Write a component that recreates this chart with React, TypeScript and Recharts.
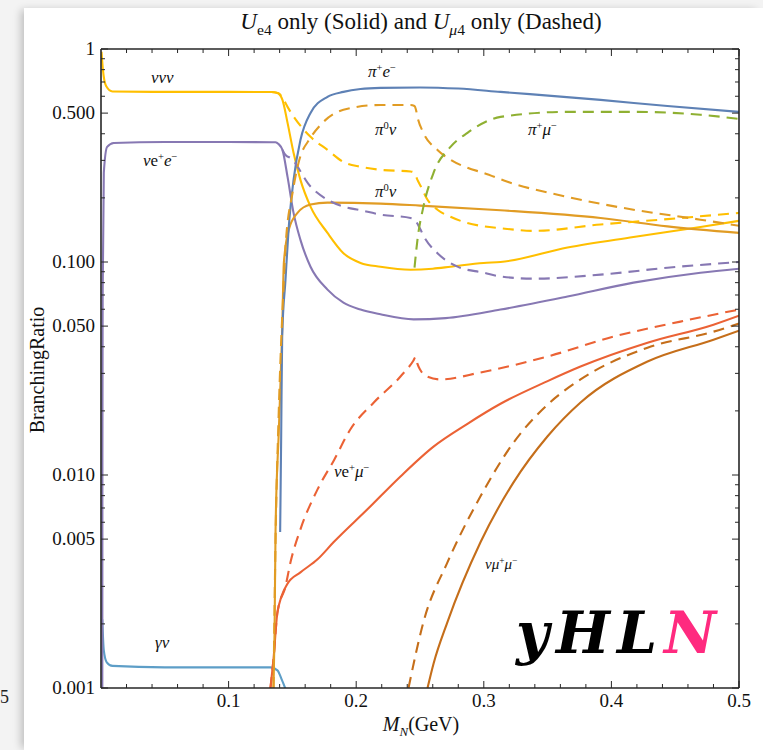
import React from 'react';
import { LineChart, Line, XAxis, YAxis } from 'recharts';

type Pt = [number, number];

// M_N (GeV), branching ratio — U_e4 only (solid)
const nuNuNuSolid: Pt[] = [
  [0.0004, 0.97], [0.0015, 0.8], [0.004, 0.67], [0.009, 0.632], [0.05, 0.629], [0.1, 0.629],
  [0.1336, 0.628], [0.1383, 0.622], [0.1422, 0.577], [0.1462, 0.45], [0.1509, 0.326],
  [0.1563, 0.243], [0.1642, 0.182], [0.1775, 0.137], [0.19, 0.11], [0.2034, 0.099],
  [0.219, 0.095], [0.2426, 0.092], [0.26, 0.093], [0.2739, 0.095], [0.2998, 0.099],
  [0.3131, 0.1], [0.3656, 0.117], [0.4173, 0.131], [0.4698, 0.146], [0.5, 0.156],
];
const nuEESolid: Pt[] = [
  [0.00103, 0.001], [0.0011, 0.012], [0.0013, 0.07], [0.0022, 0.262], [0.0048, 0.347],
  [0.01, 0.362], [0.05, 0.366], [0.1, 0.366], [0.1368, 0.365], [0.1391, 0.358],
  [0.1422, 0.336], [0.1462, 0.251], [0.1509, 0.17], [0.1563, 0.127], [0.1642, 0.095],
  [0.1775, 0.0742], [0.19, 0.0644], [0.2034, 0.0598], [0.219, 0.0568], [0.245, 0.0538],
  [0.27, 0.0545], [0.3131, 0.0598], [0.3656, 0.0688], [0.4173, 0.08], [0.4698, 0.0891], [0.5, 0.093],
];
const piEsolid: Pt[] = [
  [0.1404, 0.0054], [0.1412, 0.015], [0.142, 0.045], [0.1446, 0.0826], [0.147, 0.142],
  [0.1509, 0.243], [0.1563, 0.374], [0.1642, 0.501], [0.1775, 0.596], [0.19, 0.629],
  [0.2034, 0.649], [0.219, 0.657], [0.25, 0.66], [0.28, 0.652], [0.3131, 0.629],
  [0.3915, 0.577], [0.4439, 0.54], [0.5, 0.507],
];
const pi0NuSolid: Pt[] = [
  [0.1352, 0.001], [0.136, 0.0018], [0.1368, 0.0055], [0.1394, 0.0164], [0.142, 0.048],
  [0.1433, 0.099], [0.1472, 0.142], [0.154, 0.17], [0.1642, 0.186], [0.1775, 0.19],
  [0.219, 0.188], [0.25, 0.184], [0.3131, 0.175], [0.3915, 0.161], [0.4439, 0.147], [0.5, 0.137],
];
const gammaNuSolid: Pt[] = [
  [0.001, 0.0021], [0.0022, 0.0015], [0.0045, 0.00132], [0.009, 0.00127], [0.05, 0.00125],
  [0.1, 0.00125], [0.1328, 0.00125], [0.1383, 0.00121], [0.1415, 0.0011], [0.1446, 0.00099],
];
const nuEMuSolid: Pt[] = [
  [0.1328, 0.001], [0.1352, 0.00137], [0.1383, 0.00227], [0.1459, 0.00307], [0.1563, 0.00349],
  [0.1697, 0.00402], [0.1822, 0.00483], [0.2088, 0.0069], [0.2347, 0.00985], [0.2606, 0.0136],
  [0.2872, 0.0174], [0.3131, 0.0216], [0.35, 0.0276], [0.3758, 0.0323], [0.4283, 0.0418],
  [0.48, 0.0508], [0.5, 0.056],
];
const nuMuMuSolid: Pt[] = [
  [0.2559, 0.001], [0.2606, 0.0013], [0.2715, 0.00204], [0.2974, 0.00483], [0.3233, 0.00923],
  [0.35, 0.0152], [0.3758, 0.0219], [0.4283, 0.0341], [0.48, 0.0432], [0.5, 0.0476],
];

// U_mu4 only (dashed)
const nuNuNuDashed: Pt[] = [
  [0.1336, 0.628], [0.1391, 0.62], [0.143, 0.58], [0.1462, 0.535], [0.1642, 0.387],
  [0.1775, 0.336], [0.19, 0.295], [0.2034, 0.28], [0.219, 0.271], [0.2426, 0.266],
  [0.2457, 0.262], [0.248, 0.243], [0.2504, 0.228], [0.2559, 0.196], [0.2637, 0.176],
  [0.2739, 0.163], [0.2998, 0.147], [0.3131, 0.144], [0.339, 0.14], [0.3915, 0.15],
  [0.4439, 0.159], [0.5, 0.17],
];
const nuEEDashed: Pt[] = [
  [0.1422, 0.336], [0.1446, 0.318], [0.1485, 0.308], [0.1642, 0.226], [0.1775, 0.196],
  [0.19, 0.182], [0.2034, 0.175], [0.219, 0.167], [0.2426, 0.161], [0.2457, 0.158],
  [0.2504, 0.142], [0.2527, 0.133], [0.2637, 0.11], [0.2794, 0.0951], [0.2998, 0.0891],
  [0.3131, 0.0855], [0.339, 0.0835], [0.3915, 0.0872], [0.4439, 0.094], [0.5, 0.1],
];
const pi0NuDashed: Pt[] = [
  [0.1352, 0.001], [0.1368, 0.005], [0.1391, 0.018], [0.143, 0.075], [0.1446, 0.118],
  [0.1501, 0.211], [0.1548, 0.292], [0.1642, 0.383], [0.172, 0.44], [0.19, 0.518],
  [0.219, 0.546], [0.2426, 0.546], [0.2457, 0.54], [0.2468, 0.52], [0.248, 0.48],
  [0.2527, 0.404], [0.2637, 0.336], [0.2739, 0.302], [0.2872, 0.277], [0.2998, 0.262],
  [0.3186, 0.238], [0.3656, 0.202], [0.4173, 0.176], [0.4698, 0.158], [0.5, 0.148],
];
const piMuDashed: Pt[] = [
  [0.2457, 0.094], [0.248, 0.127], [0.2527, 0.182], [0.2606, 0.262], [0.2739, 0.347],
  [0.2872, 0.404], [0.3131, 0.48], [0.3656, 0.507], [0.4173, 0.507], [0.4698, 0.491], [0.5, 0.47],
];
const nuEMuDashed: Pt[] = [
  [0.1328, 0.001], [0.1352, 0.00137], [0.1383, 0.00227], [0.1446, 0.003], [0.1485, 0.00389],
  [0.1563, 0.00556], [0.1697, 0.00856], [0.1828, 0.0118], [0.1955, 0.0164], [0.2138, 0.0219],
  [0.2347, 0.029], [0.2449, 0.0345], [0.2465, 0.0358], [0.2478, 0.0335], [0.2504, 0.031],
  [0.2557, 0.029], [0.266, 0.0281], [0.2974, 0.0303], [0.35, 0.036], [0.4016, 0.0446],
  [0.4541, 0.0525], [0.5, 0.0598],
];
const nuMuMuDashed: Pt[] = [
  [0.241, 0.001], [0.2527, 0.00204], [0.2715, 0.00389], [0.2974, 0.00794], [0.3233, 0.0142],
  [0.35, 0.0214], [0.3758, 0.0281], [0.4283, 0.0396], [0.48, 0.0471], [0.5, 0.0514],
];

const xMajor = [0.1, 0.2, 0.3, 0.4, 0.5];
const xMinor = [0.02, 0.04, 0.06, 0.08, 0.12, 0.14, 0.16, 0.18, 0.22, 0.24, 0.26, 0.28,
  0.32, 0.34, 0.36, 0.38, 0.42, 0.44, 0.46, 0.48];
const yMajor = [0.001, 0.005, 0.01, 0.05, 0.1, 0.5, 1];
const yMinor = [0.002, 0.003, 0.004, 0.006, 0.007, 0.008, 0.009, 0.02, 0.03, 0.04, 0.06, 0.07,
  0.08, 0.09, 0.2, 0.3, 0.4, 0.6, 0.7, 0.8, 0.9];
const xTicks = [...xMinor, ...xMajor].sort((a, b) => a - b);
const yTicks = [...yMinor, ...yMajor].sort((a, b) => a - b);

const C = {
  yellow: '#FFBF00',
  purple: '#8778B3',
  blue: '#5E81B5',
  orange: '#E19C24',
  green: '#8FB032',
  red: '#EB6235',
  brown: '#C56E1A',
  lightBlue: '#5D9EC7',
};

const series = [
  { key: 'gvS', pts: gammaNuSolid, color: C.lightBlue, dashed: false },
  { key: 'eeS', pts: nuEESolid, color: C.purple, dashed: false },
  { key: 'nnnS', pts: nuNuNuSolid, color: C.yellow, dashed: false },
  { key: 'emuS', pts: nuEMuSolid, color: C.red, dashed: false },
  { key: 'mumuS', pts: nuMuMuSolid, color: C.brown, dashed: false },
  { key: 'pi0S', pts: pi0NuSolid, color: C.orange, dashed: false },
  { key: 'pieS', pts: piEsolid, color: C.blue, dashed: false },
  { key: 'eeD', pts: nuEEDashed, color: C.purple, dashed: true },
  { key: 'nnnD', pts: nuNuNuDashed, color: C.yellow, dashed: true },
  { key: 'emuD', pts: nuEMuDashed, color: C.red, dashed: true },
  { key: 'mumuD', pts: nuMuMuDashed, color: C.brown, dashed: true },
  { key: 'pi0D', pts: pi0NuDashed, color: C.orange, dashed: true },
  { key: 'pimuD', pts: piMuDashed, color: C.green, dashed: true },
];

const SERIF = '"Liberation Serif", "DejaVu Serif", serif';
const FRAME = '#262626';

const fmtY = (v: number) => (v === 1 ? '1' : v.toFixed(3));

const LeftTick = ({ x, y, payload }: any) => {
  const major = yMajor.includes(payload.value);
  return (
    <g>
      <line x1={x} x2={x + (major ? 7 : 4)} y1={y} y2={y} stroke={FRAME} strokeWidth={1} />
      {major && (
        <text x={x - 6} y={y + 6} textAnchor="end" fontSize={19} fontFamily={SERIF} fill="#111">
          {fmtY(payload.value)}
        </text>
      )}
    </g>
  );
};
const RightTick = ({ x, y, payload }: any) => {
  const major = yMajor.includes(payload.value);
  return <line x1={x} x2={x - (major ? 7 : 4)} y1={y} y2={y} stroke={FRAME} strokeWidth={1} />;
};
const BottomTick = ({ x, y, payload }: any) => {
  const major = xMajor.includes(payload.value);
  return (
    <g>
      <line x1={x} x2={x} y1={y} y2={y - (major ? 7 : 4)} stroke={FRAME} strokeWidth={1} />
      {major && (
        <text x={x} y={y + 19} textAnchor="middle" fontSize={19} fontFamily={SERIF} fill="#111">
          {String(payload.value)}
        </text>
      )}
    </g>
  );
};
const TopTick = ({ x, y, payload }: any) => {
  const major = xMajor.includes(payload.value);
  return <line x1={x} x2={x} y1={y} y2={y + (major ? 7 : 4)} stroke={FRAME} strokeWidth={1} />;
};

const sup = (s: string) => (
  <sup style={{ fontSize: '0.62em', lineHeight: 0, verticalAlign: '0.55em' }}>{s}</sup>
);

const lab: React.CSSProperties = {
  position: 'absolute',
  fontFamily: SERIF,
  fontSize: 17,
  lineHeight: 1,
  color: '#111',
  whiteSpace: 'nowrap',
};

export default function App() {
  return (
    <div style={{ position: 'absolute', left: 0, top: 0, width: 763, height: 750, overflow: 'hidden', background: '#f3f3f3' }}>
      <div style={{ position: 'absolute', left: 0, top: 687, fontFamily: SERIF, fontSize: 18, color: '#222' }}>5</div>
      <div
        style={{
          position: 'absolute', left: 24, top: 8, right: 0, bottom: 0, background: '#fff',
          boxShadow: '-5px 0 8px -2px rgba(0,0,0,0.22)',
        }}
      />
      <div style={{ position: 'absolute', left: 0, top: 0 }}>
        <LineChart width={763} height={750} margin={{ top: 48, right: 23, bottom: 32, left: 41 }}>
          <XAxis
            xAxisId={0} dataKey="m" type="number" domain={[0, 0.5]} allowDataOverflow
            ticks={xTicks} interval={0} tick={<BottomTick />} tickLine={false} tickSize={0} tickMargin={0}
            height={30} axisLine={{ stroke: FRAME, strokeWidth: 1.6 }}
          />
          <XAxis
            xAxisId="top" orientation="top" dataKey="m" type="number" domain={[0, 0.5]} allowDataOverflow
            ticks={xTicks} interval={0} tick={<TopTick />} tickLine={false} tickSize={0} tickMargin={0}
            height={1} axisLine={{ stroke: FRAME, strokeWidth: 1.6 }}
          />
          <YAxis
            yAxisId={0} type="number" scale="log" domain={[0.001, 1]} allowDataOverflow
            ticks={yTicks} interval={0} tick={<LeftTick />} tickLine={false} tickSize={0} tickMargin={0}
            width={60} axisLine={{ stroke: FRAME, strokeWidth: 1.6 }}
          />
          <YAxis
            yAxisId="right" orientation="right" type="number" scale="log" domain={[0.001, 1]} allowDataOverflow
            ticks={yTicks} interval={0} tick={<RightTick />} tickLine={false} tickSize={0} tickMargin={0}
            width={1} axisLine={{ stroke: FRAME, strokeWidth: 1.6 }}
          />
          {series.map((s) => (
            <Line
              key={s.key}
              data={s.pts.map(([m, br]) => ({ m, br }))}
              dataKey="br"
              type="monotone"
              stroke={s.color}
              strokeWidth={2.1}
              strokeDasharray={s.dashed ? '11 7' : undefined}
              dot={false}
              activeDot={false}
              isAnimationActive={false}
            />
          ))}
        </LineChart>
      </div>

      {/* title */}
      <div style={{ ...lab, fontSize: 23, left: 421, top: 10, transform: 'translateX(-50%)' }}>
        <i>U</i><sub style={{ fontSize: '0.68em' }}>e4</sub> only (Solid) and <i>U</i>
        <sub style={{ fontSize: '0.68em' }}><i>μ</i>4</sub> only (Dashed)
      </div>
      {/* axis titles */}
      <div style={{ ...lab, fontSize: 20, left: 37, top: 370, transform: 'translate(-50%, -50%) rotate(-90deg)' }}>
        BranchingRatio
      </div>
      <div style={{ ...lab, fontSize: 20, left: 421, top: 726, transform: 'translate(-50%, -50%)' }}>
        <i>M</i><sub style={{ fontSize: '0.65em' }}><i>N</i></sub>(GeV)
      </div>

      {/* curve labels */}
      <div style={{ ...lab, left: 151, top: 69 }}><i>ννν</i></div>
      <div style={{ ...lab, left: 143, top: 152 }}><i>ν</i>e{sup('+')}<i>e</i>{sup('−')}</div>
      <div style={{ ...lab, left: 368, top: 63 }}><i>π</i>{sup('+')}<i>e</i>{sup('−')}</div>
      <div style={{ ...lab, left: 375, top: 121 }}><i>π</i>{sup('0')}<i>ν</i></div>
      <div style={{ ...lab, left: 528, top: 121 }}><i>π</i>{sup('+')}<i>μ</i>{sup('−')}</div>
      <div style={{ ...lab, left: 375, top: 183 }}><i>π</i>{sup('0')}<i>ν</i></div>
      <div style={{ ...lab, left: 334, top: 463 }}><i>ν</i>e{sup('+')}<i>μ</i>{sup('−')}</div>
      <div style={{ ...lab, fontSize: 15, left: 485, top: 557 }}><i>νμ</i>{sup('+')}<i>μ</i>{sup('−')}</div>
      <div style={{ ...lab, left: 155, top: 634 }}><i>γν</i></div>

      {/* watermark */}
      <div
        style={{
          position: 'absolute', left: 516, top: 604, fontFamily: '"DejaVu Serif", serif', fontSize: 57,
          fontWeight: 700, fontStyle: 'italic', letterSpacing: 7, lineHeight: 1, color: '#000',
          whiteSpace: 'nowrap',
        }}
      >
        yHL<span style={{ color: '#ff2a7f' }}>N</span>
      </div>
    </div>
  );
}
